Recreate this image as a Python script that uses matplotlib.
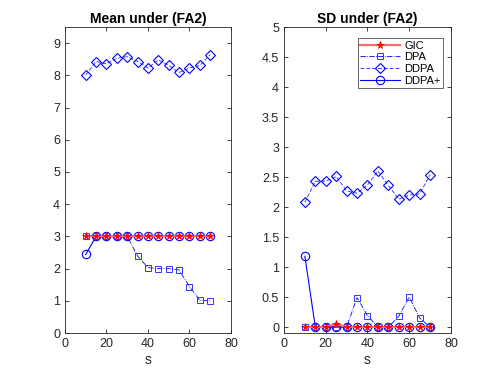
import matplotlib
matplotlib.use("Agg")
import matplotlib.pyplot as plt

s = [10, 15, 20, 25, 30, 35, 40, 45, 50, 55, 60, 65, 70]

mean_gic = [3, 3, 3, 3, 3, 3, 3, 3, 3, 3, 3, 3, 3]
mean_dpa = [3, 3, 3, 3, 3, 2.39, 2.03, 2.0, 2.0, 1.96, 1.44, 1.02, 1.0]
mean_ddpa = [8.01, 8.43, 8.36, 8.53, 8.58, 8.43, 8.23, 8.48, 8.31, 8.09, 8.23, 8.31, 8.64]
mean_ddpap = [2.44, 3, 3, 3, 3, 3, 3, 3, 3, 3, 3, 3, 3]

sd_gic = [0, 0, 0, 0.05, 0, 0, 0, 0, 0, 0, 0, 0, 0]
sd_dpa = [0, 0, 0, 0, 0, 0.49, 0.19, 0, 0, 0.18, 0.5, 0.15, 0]
sd_ddpa = [2.08, 2.43, 2.43, 2.51, 2.27, 2.23, 2.37, 2.60, 2.36, 2.13, 2.20, 2.22, 2.54]
sd_ddpap = [1.18, 0, 0, 0, 0, 0, 0, 0, 0, 0, 0, 0, 0]

labels = ["GIC", "DPA", "DDPA", "DDPA+"]
titles = ["Mean under (FA2)", "SD under (FA2)"]

plt.rcParams['font.family'] = ['Liberation Sans', 'DejaVu Sans']

fig = plt.figure(figsize=(4.98, 3.74), dpi=100)
ax1 = fig.add_axes([0.1305, 0.1096, 0.3333, 0.818])
ax2 = fig.add_axes([0.5703, 0.1096, 0.3353, 0.818])

def draw(ax, gic, dpa, ddpa, ddpap):
    h4, = ax.plot(s, ddpap, color='#0000ff', ls='-', lw=0.8, marker='o', ms=6,
                  mfc='none', mec='#0000ff', mew=0.8, zorder=2)
    h2, = ax.plot(s, dpa, color='#0000ff', ls='-.', lw=0.6, marker='s', ms=4.8,
                  mfc='none', mec='#3333ff', mew=0.7, zorder=3)
    h3, = ax.plot(s, ddpa, color='#4040ff', ls=(0, (4, 2)), lw=0.7, marker='D', ms=4.8,
                  mfc='none', mec='#0000ff', mew=0.8, zorder=3)
    h1, = ax.plot(s, gic, color='#ff6a6a', ls='-', lw=1.6, marker='*', ms=5.5,
                  mfc='#ff0000', mec='#ff0000', mew=0.6, zorder=4)
    return [h1, h2, h3, h4]

draw(ax1, mean_gic, mean_dpa, mean_ddpa, mean_ddpap)
handles = draw(ax2, sd_gic, sd_dpa, sd_ddpa, sd_ddpap)

ax1.set_xlim(0, 80)
ax1.set_ylim(0, 9.5)
ax1.set_yticks(range(0, 10))
ax2.set_xlim(0, 80)
ax2.set_ylim(-0.1, 5)
ax2.set_yticks([0, 0.5, 1, 1.5, 2, 2.5, 3, 3.5, 4, 4.5, 5])
ax2.set_yticklabels(['0', '0.5', '1', '1.5', '2', '2.5', '3', '3.5', '4', '4.5', '5'])

for ax, t in zip([ax1, ax2], titles):
    ax.set_xticks([0, 20, 40, 60, 80])
    ax.set_title(t, fontsize=10, fontweight='bold', pad=3)
    ax.set_xlabel('s', fontsize=10, color='#262626', labelpad=2)
    ax.tick_params(direction='in', top=True, right=True, labelsize=9,
                   colors='#262626', length=3, width=0.6)
    for sp in ax.spines.values():
        sp.set_color('#262626')
        sp.set_linewidth(0.6)

leg = ax2.legend(handles, labels, loc='upper right', fontsize=8,
                 bbox_to_anchor=(0.955, 0.965),
                 frameon=True, fancybox=False, edgecolor='#262626',
                 handlelength=3.6, borderpad=0.25, labelspacing=0.15,
                 handletextpad=0.35, borderaxespad=0.0)
leg.get_frame().set_linewidth(0.6)

fig.savefig('out.png', dpi=100)
